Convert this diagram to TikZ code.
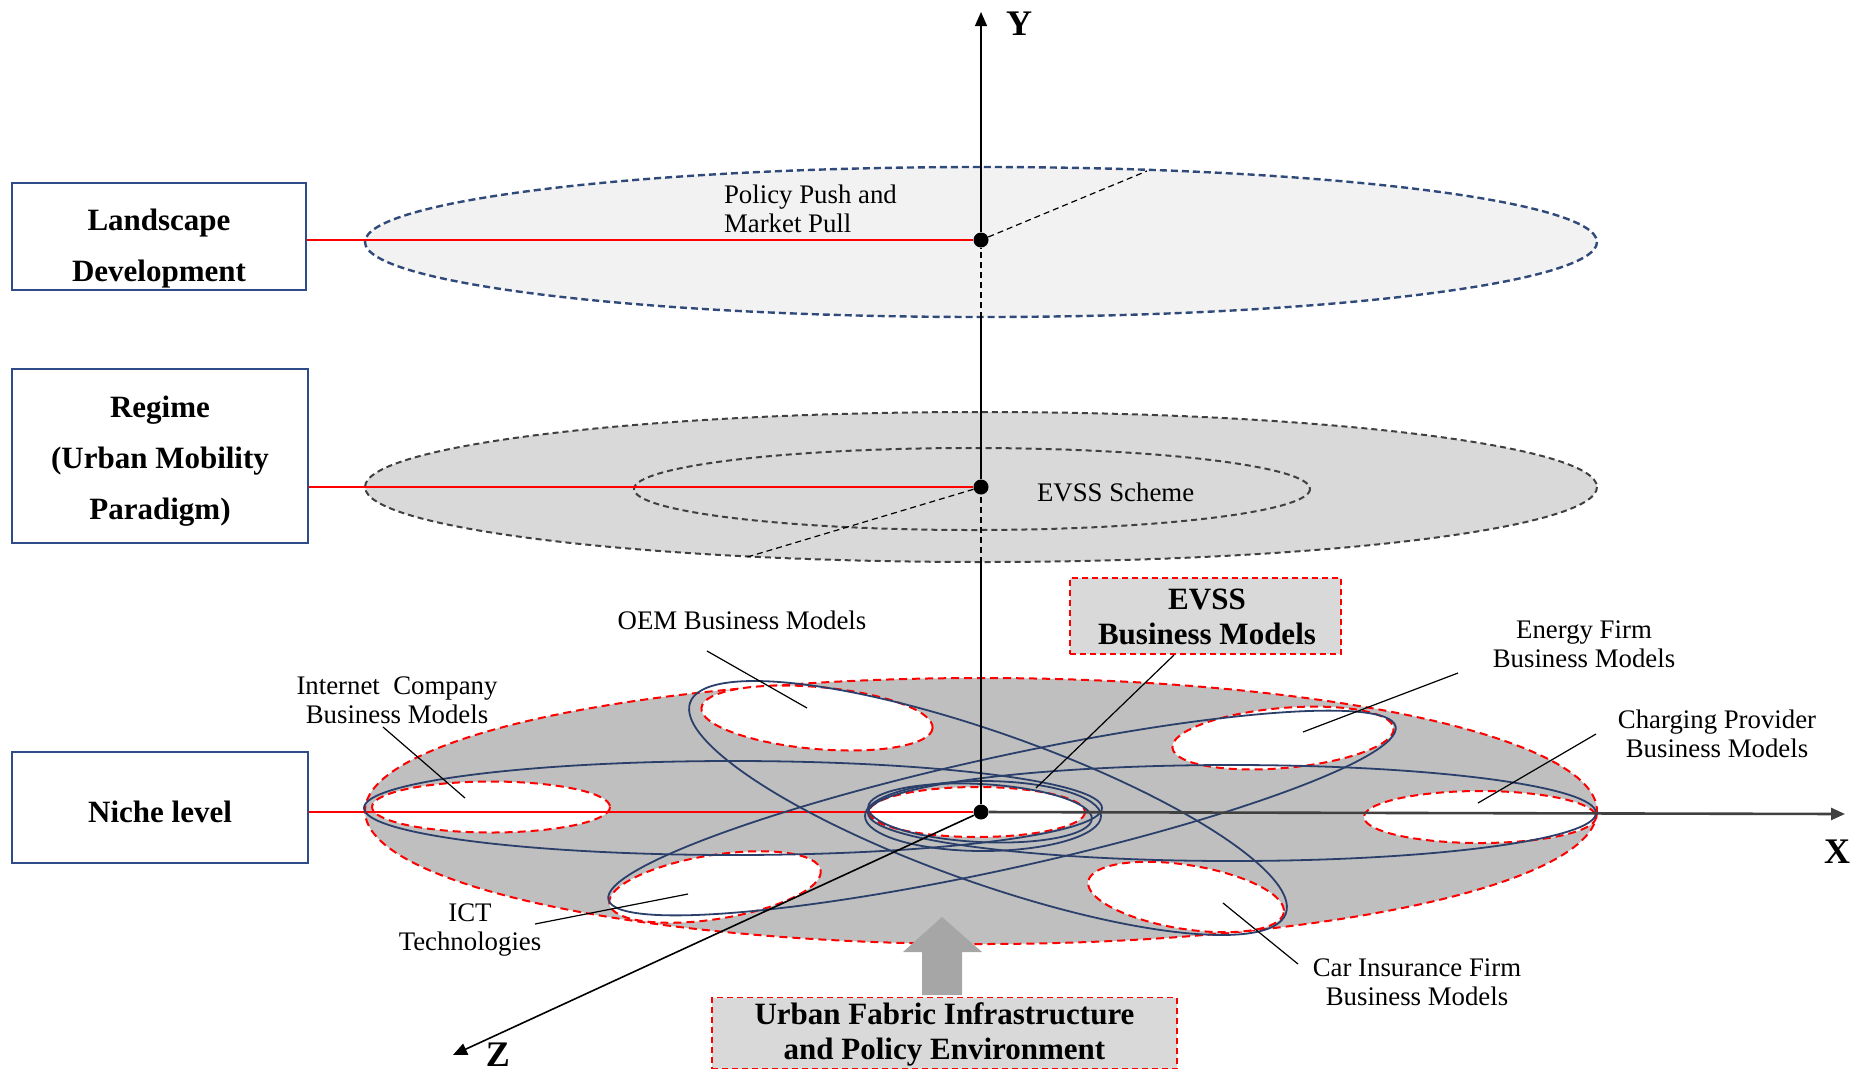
\documentclass[tikz,border=0pt]{standalone}
\usepackage{fontspec}
\setmainfont{Liberation Serif}
\usetikzlibrary{arrows.meta}
\definecolor{boxblue}{HTML}{2F4B8A}
\definecolor{ringblue}{HTML}{2B3F6B}
\definecolor{landfill}{HTML}{F2F2F2}
\definecolor{regfill}{HTML}{D9D9D9}
\definecolor{nichefill}{HTML}{BFBFBF}
\definecolor{arrowgray}{HTML}{A6A6A6}
\definecolor{dashgray}{HTML}{404040}
\definecolor{dashnavy}{HTML}{2F4A7A}
\definecolor{linkred}{HTML}{FF0000}
\begin{document}
\begin{tikzpicture}[x=0.5pt,y=-0.5pt,
  levelbox/.style={draw=boxblue, line width=0.9pt, inner sep=0pt},
  leveltext/.style={align=center, font=\fontsize{15.5}{25.5}\selectfont\bfseries},
  boldtext/.style={align=center, font=\fontsize{15.5}{17.5}\selectfont\bfseries},
  plaintext/.style={align=center, font=\fontsize{13.4}{14.6}\selectfont},
  axislabel/.style={font=\fontsize{18}{18}\selectfont\bfseries},
  redbox/.style={draw=linkred, fill=regfill, line width=0.8pt, dash pattern=on 3pt off 2pt, inner sep=0pt},
  hole/.style={fill=white, draw=linkred, line width=1pt, dash pattern=on 4pt off 2.5pt},
  ring/.style={draw=ringblue, line width=0.9pt},
  dotnode/.style={circle, fill=black, inner sep=0pt, minimum size=7.5pt},
  redlink/.style={draw=linkred, line width=0.8pt},
  leader/.style={draw=black, line width=0.6pt},
  hidden/.style={draw=black, line width=0.6pt, dash pattern=on 3pt off 2pt}
]
\useasboundingbox (0,0) rectangle (1858,1072);

% ---------- landscape plane ----------
\path[fill=landfill, draw=dashnavy, line width=1.2pt, dash pattern=on 3.5pt off 2pt]
  (981,242) ellipse [x radius=616, y radius=75];
\node[dotnode] (o1) at (981,240) {};
\coordinate (landrim) at (1147,171);
\coordinate (landbot) at (981,318);
\draw[hidden] (o1) -- (landrim);
\node[plaintext, align=left, anchor=west] (policy) at (717,209) {Policy Push and\\Market Pull};

% ---------- regime plane ----------
\path[fill=regfill, draw=dashgray, line width=1pt, dash pattern=on 3pt off 2pt]
  (981,487) ellipse [x radius=616, y radius=75];
\path[draw=dashgray, line width=1pt, dash pattern=on 3pt off 2pt]
  (972,489) ellipse [x radius=338, y radius=41];
\node[dotnode] (o2) at (981,487) {};
\coordinate (regrim) at (744,558);
\coordinate (regbot) at (981,563);
\draw[hidden] (o2) -- (regrim);
\node[plaintext, anchor=west] (scheme) at (1030,492) {EVSS Scheme};

% ---------- niche plane ----------
\path[fill=nichefill, draw=linkred, line width=1pt, dash pattern=on 4pt off 2.5pt]
  (981,811) ellipse [x radius=616, y radius=133];
\path[hole] (491,807) ellipse [x radius=119, y radius=25.5];
\path[hole, rotate around={-5:(817,718)}] (817,718) ellipse [x radius=116, y radius=31];
\path[hole, rotate around={5:(1283,738)}] (1283,738) ellipse [x radius=111, y radius=30];
\path[hole] (1480,817) ellipse [x radius=116, y radius=26];
\path[hole, rotate around={-9:(1186,897)}] (1186,897) ellipse [x radius=99, y radius=32];
\path[hole, rotate around={9:(715,887)}] (715,887) ellipse [x radius=107, y radius=32];
\path[hole] (977,812) ellipse [x radius=108, y radius=25];

\node[dotnode] (o3) at (981,812) {};

% ---------- level boxes and their links ----------
\node[levelbox, minimum width=147pt, minimum height=53.5pt] (landbox) at (159,236.5) {};
\node[leveltext] (landtext) at (159,249) {Landscape\\Development};
\node[levelbox, minimum width=148pt, minimum height=87pt] (regbox) at (160,456) {};
\node[leveltext] (regtext) at (160,461) {Regime\\(Urban Mobility\\Paradigm)};
\node[levelbox, minimum width=148pt, minimum height=55.5pt] (nichebox) at (160,807.5) {};
\node[leveltext] (nichetext) at (160,812) {Niche level};

\draw[redlink] (landbox.east |- o1) -- (o1);
\draw[redlink] (regbox.east |- o2) -- (o2);
\draw[redlink] (nichebox.east |- o3) -- (o3);

% ---------- business model linkages ----------
\draw[ring] (733,808) ellipse [x radius=369, y radius=47];
\draw[ring] (1232,813) ellipse [x radius=364, y radius=48];
\draw[ring, rotate around={-19.5:(988,808)}] (988,808) ellipse [x radius=316, y radius=75];
\draw[ring, rotate around={12.4:(1002,813)}] (1002,813) ellipse [x radius=403, y radius=56];
\draw[ring] (983,816) ellipse [x radius=118, y radius=35];
\draw[ring, rotate around={-3:(980,813)}] (980,813) ellipse [x radius=112, y radius=29];

% ---------- axes ----------
\coordinate (ytip) at (981,12);
\coordinate (xtip) at (1845,814);
\coordinate (ztip) at (453,1055);
\draw[line width=0.6pt] (o3) -- (regbot);
\draw[hidden] (regbot) -- (o2);
\draw[line width=0.6pt] (o2) -- (landbot);
\draw[hidden] (landbot) -- (o1);
\draw[line width=0.6pt, -{Triangle[length=7pt,width=6pt]}] (o1) -- (ytip);
\draw[dashgray, line width=1.3pt, -{Triangle[length=7pt,width=6pt]}] (o3) -- (xtip);
\draw[line width=0.8pt, -{Triangle[length=7pt,width=6pt]}] (o3) -- (ztip);
\node[axislabel] (ylab) at (1019,24) {Y};
\node[axislabel] (xlab) at (1837,852) {X};
\node[axislabel] (zlab) at (498,1055) {Z};

% ---------- labels of the business models ----------
\node[plaintext] (oemlbl) at (742,620) {OEM Business Models};
\coordinate (oemA) at (707,651); \coordinate (oemB) at (807,708);
\draw[leader] (oemA) -- (oemB);

\node[plaintext] (netlbl) at (397,700) {Internet\ \ Company\\Business Models};
\coordinate (netA) at (383,727); \coordinate (netB) at (465,798);
\draw[leader] (netA) -- (netB);

\node[plaintext] (ictlbl) at (470,930) {ICT\\Technologies};
\coordinate (ictA) at (535,924); \coordinate (ictB) at (688,894);
\draw[leader] (ictA) -- (ictB);

\node[plaintext] (enlbl) at (1584,644) {Energy Firm\\Business Models};
\coordinate (enA) at (1458,673); \coordinate (enB) at (1303,732);
\draw[leader] (enA) -- (enB);

\node[plaintext] (chlbl) at (1717,734) {Charging Provider\\Business Models};
\coordinate (chA) at (1596,734); \coordinate (chB) at (1478,803);
\draw[leader] (chA) -- (chB);

\node[plaintext] (carlbl) at (1417,982) {Car Insurance Firm\\Business Models};
\coordinate (carA) at (1298,964); \coordinate (carB) at (1223,903);
\draw[leader] (carA) -- (carB);

% ---------- EVSS business models ----------
\node[redbox, minimum width=135.5pt, minimum height=38pt] (evss) at (1205.5,616) {};
\node[boldtext] (evsstext) at (1207,617) {EVSS\\Business Models};
\coordinate (evssA) at (1174,655); \coordinate (evssB) at (1036,788);
\draw[leader] (evssA) -- (evssB);

% ---------- urban fabric push ----------
\node[redbox, minimum width=232.5pt, minimum height=35.5pt] (urban) at (944.5,1033) {};
\node[boldtext] (urbantext) at (944.5,1034.5) {Urban Fabric Infrastructure\\and Policy Environment};
\fill[arrowgray] (922,995) -- (922,952) -- (903,952) -- (942,917) -- (982,952) -- (962,952) -- (962,995) -- cycle;
\end{tikzpicture}
\end{document}
